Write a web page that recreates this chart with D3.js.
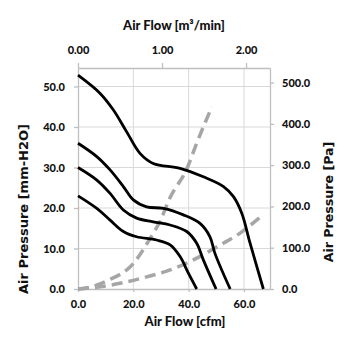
<!DOCTYPE html>
<html><head><meta charset="utf-8">
<script src="https://cdn.jsdelivr.net/npm/d3@7"></script>
<style>body{margin:0;background:#fff}svg{display:block}</style>
</head><body><svg id="c" width="355" height="355"></svg>
<script>
// Fan curves: airflow (cfm) vs static pressure (mm-H2O)
const fanHigh = [[0,52.8],[8,48.3],[12.8,44.2],[17.6,38.8],[22.4,33.5],[27.2,31.0],[36.9,29.8],[45.3,27.7],[52.6,25.3],[56.2,22.8],[59.2,18.7],[62.2,11.3],[67.0,0]];
const fanMid = [[0,36.0],[6.8,32.7],[11.6,29.4],[16.4,25.3],[20.0,22.0],[24.8,20.3],[30.9,19.9],[38.1,18.3],[44.1,16.2],[47.7,12.9],[49.5,8.8],[55.0,0]];
const fanLow = [[0,30.0],[6.8,26.9],[11.6,23.6],[16.4,19.5],[21.2,17.5],[27.2,16.6],[33.3,15.8],[39.3,14.2],[42.9,11.3],[45.3,7.2],[49.9,0]];
const fanMin = [[0,23.0],[6.8,19.9],[11.6,17.0],[16.4,14.2],[21.2,12.9],[28.4,12.1],[33.3,10.9],[36.9,8.0],[39.9,3.9],[42.9,0]];
// System impedance curves (dashed)
const sysSteep = [[0,0],[4,0.4],[10.4,2.0],[20,6.3],[26,12.4],[29.7,16.8],[33.3,22.6],[39.3,29.6],[42.9,36.0],[48.4,45.0]];
const sysShallow = [[0,0],[5,0.3],[15.2,1.4],[24.8,3.0],[33.3,4.7],[41.7,7.2],[50.2,10.4],[58.6,13.8],[65.8,17.7]];
const cfmTicks = [0,20,40,60];
const m3Ticks = [0,1,2];
const mmTicks = [0,10,20,30,40,50];
const paTicks = [0,100,200,300,400,500];

const svg = d3.select("#c");
const L=78,R=270,T=68,B=289;
const x = d3.scaleLinear().domain([0,69.4]).range([L,R]);
const xTop = d3.scaleLinear().domain([0,2.285]).range([L,R]);
const y = d3.scaleLinear().domain([0,54.57]).range([B,T]);
const yPa = d3.scaleLinear().domain([0,54.57*9.80665]).range([B,T]);

const axisCol="#bfbfbf", gridCol="#d9d9d9", txtCol="#111";
const tickFont="Lato, 'Open Sans', sans-serif";

// grid
svg.append("g").selectAll("line").data(mmTicks.filter(d=>d>0)).join("line")
  .attr("x1",L).attr("x2",R).attr("y1",d=>y(d)).attr("y2",d=>y(d))
  .attr("stroke",gridCol).attr("stroke-width",1);
svg.append("g").selectAll("line").data(cfmTicks.filter(d=>d>0)).join("line")
  .attr("x1",d=>x(d)).attr("x2",d=>x(d)).attr("y1",T).attr("y2",B)
  .attr("stroke",gridCol).attr("stroke-width",1);

function styleAxis(g){
  g.selectAll(".domain").attr("stroke",axisCol).attr("stroke-width",1.3);
  g.selectAll(".tick line").attr("stroke",axisCol).attr("stroke-width",1.3);
  g.selectAll("text").attr("font-family",tickFont).attr("font-weight","900").attr("font-size","11px").attr("fill",txtCol);
}
svg.append("g").attr("transform",`translate(0,${B})`)
  .call(d3.axisBottom(x).tickValues(cfmTicks).tickFormat(d3.format(".1f")).tickSize(3).tickPadding(8).tickSizeOuter(0))
  .call(styleAxis);
svg.append("g").attr("transform",`translate(0,${T})`)
  .call(d3.axisTop(xTop).tickValues(m3Ticks).tickFormat(d3.format(".2f")).tickSize(5).tickPadding(9).tickSizeOuter(0))
  .call(styleAxis);
svg.append("g").attr("transform",`translate(${L},0)`)
  .call(d3.axisLeft(y).tickValues(mmTicks).tickFormat(d3.format(".1f")).tickSize(4).tickPadding(9).tickSizeOuter(0))
  .call(styleAxis);
svg.append("g").attr("transform",`translate(${R},0)`)
  .call(d3.axisRight(yPa).tickValues(paTicks).tickFormat(d3.format(".1f")).tickSize(4).tickPadding(8).tickSizeOuter(0))
  .call(styleAxis);

// curves
const line = d3.line().x(d=>x(d[0])).y(d=>y(d[1])).curve(d3.curveMonotoneX);
[sysSteep, sysShallow].forEach(s=>{
  svg.append("path").datum(s).attr("d",line).attr("fill","none")
    .attr("stroke","#a6a6a6").attr("stroke-width",3.5).attr("stroke-dasharray","11,6");
});
const lineC = d3.line().x(d=>x(d[0])).y(d=>y(d[1])).curve(d3.curveCatmullRom);
[fanHigh, fanMid, fanLow, fanMin].forEach(s=>{
  svg.append("path").datum(s).attr("d",lineC).attr("fill","none")
    .attr("stroke","#000").attr("stroke-width",2.8);
});

// titles
const titleFont="'DejaVu Sans', Verdana, sans-serif";
svg.append("text").attr("x",174).attr("y",30).attr("text-anchor","middle")
  .attr("font-family",tickFont).attr("font-weight","900").attr("font-size","13px").attr("fill",txtCol)
  .text("Air Flow [m³/min]");
svg.append("text").attr("x",185).attr("y",326).attr("text-anchor","middle")
  .attr("font-family",tickFont).attr("font-weight","900").attr("font-size","13px").attr("fill",txtCol)
  .text("Air Flow [cfm]");
svg.append("text").attr("transform","translate(28,209) rotate(-90)").attr("text-anchor","middle")
  .attr("font-family",titleFont).attr("font-weight","bold").attr("font-size","13px").attr("fill",txtCol)
  .text("Air Pressure [mm-H2O]");
svg.append("text").attr("transform","translate(333,202) rotate(-90)").attr("text-anchor","middle")
  .attr("font-family",titleFont).attr("font-weight","bold").attr("font-size","12.6px").attr("fill",txtCol)
  .text("Air Pressure [Pa]");
</script></body></html>
